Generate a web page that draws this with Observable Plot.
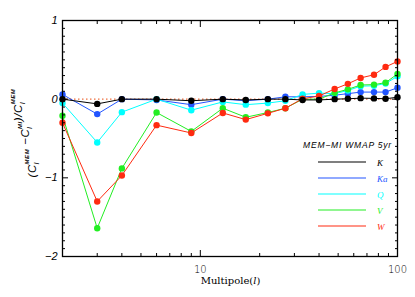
<!DOCTYPE html>
<html>
<head>
<meta charset="utf-8">
<script src="https://cdn.jsdelivr.net/npm/d3@7"></script>
<script src="https://cdn.jsdelivr.net/npm/@observablehq/plot@0.6"></script>
<style>
  html, body { margin: 0; padding: 0; background: #fff; }
  svg { display: block; }
</style>
</head>
<body>
<div id="chart"></div>
<script>
// Multipole bins
const ell = [2, 3, 4, 6, 9, 13, 17, 22, 27, 33, 40, 48, 56, 65, 76, 87, 100];
// (C_l^MEM - C_l^MI)/C_l^MEM per WMAP band
const K  = [0.0, -0.06, 0.0, 0.0, -0.02, 0.0, -0.01, 0.0, 0.0, -0.01, -0.01, 0.0, 0.005, 0.013, 0.01, 0.005, 0.025];
const Ka = [0.06, -0.19, 0.0, -0.01, -0.07, 0.0, -0.02, 0.0, 0.03, 0.03, 0.035, 0.05, 0.07, 0.09, 0.09, 0.09, 0.145];
const Q  = [-0.05, -0.55, -0.165, 0.0, -0.14, -0.035, -0.07, -0.05, -0.02, 0.06, 0.077, 0.07, 0.11, 0.165, 0.17, 0.2, 0.29];
const V  = [-0.21, -1.64, -0.88, -0.17, -0.41, -0.115, -0.23, -0.17, -0.115, 0.0, 0.0, 0.08, 0.125, 0.18, 0.185, 0.21, 0.32];
const W  = [-0.30, -1.30, -0.97, -0.33, -0.43, -0.175, -0.26, -0.18, -0.115, 0.005, 0.04, 0.13, 0.195, 0.27, 0.31, 0.41, 0.48];

const bandNames = ["K", "Ka", "Q", "V", "W"];
const bandColors = ["#000000", "#2255ff", "#00ffff", "#22ee22", "#ff2a10"];
const bandValues = [K, Ka, Q, V, W];
const drawOrder = ["Ka", "Q", "V", "W", "K"];

const xMajor = [10, 100];
const xMinor = [2, 3, 4, 5, 6, 7, 8, 9, 20, 30, 40, 50, 60, 70, 80, 90];
const yMajor = [-2, -1, 0, 1];
const yMinor = d3.range(-20, 11).map(i => i / 10).filter(v => !yMajor.includes(v));

const legendTitle = "MEM\u2212MI WMAP 5yr";

const W_ = 415, H_ = 297;
const mL = 62, mR = 18, mT = 20, mB = 41;

const series = drawOrder.map(name => {
  const i = bandNames.indexOf(name);
  return {name, color: bandColors[i], data: ell.map((l, j) => ({l, v: bandValues[i][j]}))};
});

const lineMarks = series.flatMap(s => [
  Plot.line(s.data, {x: "l", y: "v", stroke: s.color, strokeWidth: 1}),
  Plot.dot(s.data, {x: "l", y: "v", fill: s.color, r: 3.2})
]);

const fmtY = d => d < 0 ? "\u2212" + Math.abs(d) : String(d);

const plot = Plot.plot({
  width: W_, height: H_,
  marginLeft: mL, marginRight: mR, marginTop: mT, marginBottom: mB,
  style: {background: "white", color: "black", overflow: "visible"},
  x: {type: "log", domain: [2, 100]},
  y: {domain: [-2, 1]},
  marks: [
    Plot.ruleY([0], {stroke: "#f07040", strokeWidth: 1.2, strokeDasharray: "1.5,2.5"}),
    ...lineMarks,
    Plot.frame({stroke: "black", strokeWidth: 1.3}),
    Plot.axisX(xMajor, {anchor: "bottom", tickSize: -6, tickPadding: 15, tickFormat: d => String(d), label: null,
      fontFamily: "DejaVu Sans, sans-serif", fontSize: 10, fontWeight: 300}),
    Plot.axisX(xMinor, {anchor: "bottom", tickSize: -3, text: null, label: null}),
    Plot.axisX(xMajor, {anchor: "top", tickSize: -6, text: null, label: null}),
    Plot.axisX(xMinor, {anchor: "top", tickSize: -3, text: null, label: null}),
    Plot.axisY(yMajor, {anchor: "left", tickSize: -6, tickPadding: 11, label: null, tickFormat: fmtY,
      fontStyle: "italic", fontFamily: "Liberation Sans, sans-serif", fontSize: 11}),
    Plot.axisY(yMinor, {anchor: "left", tickSize: -3, text: null, label: null}),
    Plot.axisY(yMajor, {anchor: "right", tickSize: -6, text: null, label: null}),
    Plot.axisY(yMinor, {anchor: "right", tickSize: -3, text: null, label: null})
  ]
});

document.getElementById("chart").appendChild(plot);

const svg = d3.select(plot);

// X axis label
const xl = svg.append("text")
  .attr("x", mL + (W_ - mL - mR) / 2 + 1)
  .attr("y", H_ - 13)
  .attr("text-anchor", "middle")
  .attr("font-family", "DejaVu Serif, serif")
  .attr("font-size", 10)
  .attr("fill", "black");
xl.append("tspan").text("Multipole(");
xl.append("tspan").attr("font-style", "italic").text("l");
xl.append("tspan").text(")");

// Y axis label (rotated), centred on the left
const yl = svg.append("text")
  .attr("transform", `translate(36, 133) rotate(-90)`)
  .attr("text-anchor", "middle")
  .attr("font-family", "Liberation Sans, sans-serif")
  .attr("font-style", "italic")
  .attr("font-size", 11.5)
  .attr("letter-spacing", 0.6)
  .attr("fill", "black");
function term(parent, pre, sup) {
  parent.append("tspan").attr("dy", 0).text(pre);
  parent.append("tspan").attr("font-size", 7).attr("dy", 2.5).text("l");
  parent.append("tspan").attr("font-size", 6).attr("font-weight", "bold").attr("dx", -2.5).attr("dy", -9.5).text(sup);
  parent.append("tspan").attr("font-size", 11.5).attr("dy", 7).text("");
}
term(yl, "(C", "MEM");
term(yl, " \u2212C", "MI");
term(yl, ")/C", "MEM");

// Legend (inside frame, lower right)
const xRight = W_ - mR;
svg.append("text")
  .attr("x", xRight - 5)
  .attr("y", 148)
  .attr("text-anchor", "end")
  .attr("font-family", "Liberation Sans, sans-serif")
  .attr("font-style", "italic")
  .attr("font-size", 8.5)
  .attr("letter-spacing", 0.8)
  .attr("fill", "black")
  .text(legendTitle);

bandNames.forEach((name, i) => {
  const y = 162 + i * 16;
  svg.append("line")
    .attr("x1", xRight - 79).attr("x2", xRight - 31)
    .attr("y1", y).attr("y2", y)
    .attr("stroke", bandColors[i]).attr("stroke-width", 1.2);
  svg.append("text")
    .attr("x", xRight - 20)
    .attr("y", y + 3.5)
    .attr("text-anchor", "start")
    .attr("font-family", "Liberation Serif, serif")
    .attr("font-style", "italic")
    .attr("font-size", 9)
    .attr("fill", bandColors[i])
    .text(name);
});
</script>
</body>
</html>
